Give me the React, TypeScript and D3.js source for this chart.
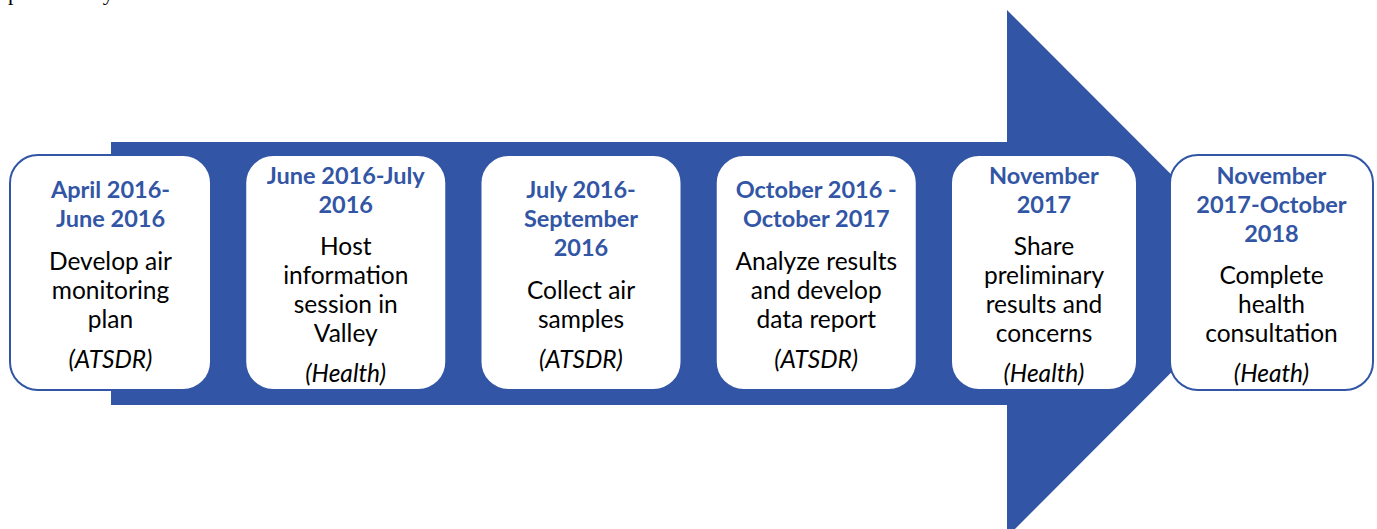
import React from "react"
import * as d3 from "d3"

// timeline content, one entry per step
const periods: string[][] = [
  ["April 2016-", "June 2016"],
  ["June 2016-July", "2016"],
  ["July 2016-", "September", "2016"],
  ["October 2016 -", "October 2017"],
  ["November", "2017"],
  ["November", "2017-October", "2018"],
]
const activities: string[][] = [
  ["Develop air", "monitoring", "plan"],
  ["Host", "information", "session in", "Valley"],
  ["Collect air", "samples"],
  ["Analyze results", "and develop", "data report"],
  ["Share", "preliminary", "results and", "concerns"],
  ["Complete", "health", "consultation"],
]
const agencies = ["(ATSDR)", "(Health)", "(ATSDR)", "(ATSDR)", "(Health)", "(Heath)"]

const W = 1377
const H = 529
const BLUE = "#3256a5"
const FONT = "Lato, 'Open Sans', sans-serif"

const App: React.FC = () => {
  const midY = 273.5
  // box placement along the arrow
  const boxX = d3.scaleLinear().domain([0, 4]).range([10, 951])
  const boxes = periods.map((_, i) => {
    const x = i < 5 ? boxX(i) : 1170
    const w = i < 4 ? 201 : i === 4 ? 186 : 203
    return { x, w }
  })

  const arrow = d3.path()
  arrow.moveTo(111, 142)
  arrow.lineTo(1007, 142)
  arrow.lineTo(1007, 10)
  arrow.lineTo(1270, midY)
  arrow.lineTo(1007, 537)
  arrow.lineTo(1007, 405)
  arrow.lineTo(111, 405)
  arrow.closePath()

  const lh = 29
  const gapTitle = 42
  const gapAgency = 40

  return (
    <svg width={W} height={H} style={{ position: "absolute", left: 0, top: 0 }}>
      <rect width={W} height={H} fill="white" />
      {/* caption of the page above, cut off at the top edge */}
      <text x={8} y={-0.5} fontFamily="'Liberation Serif', serif" fontSize={22} fill="black">
        provided by
      </text>
      <path d={arrow.toString()} fill={BLUE} />
      {boxes.map((b, i) => {
        const nt = periods[i].length
        const nb = activities[i].length
        const span = lh * (nt - 1) + gapTitle + lh * (nb - 1) + gapAgency
        const t0 = midY - span / 2
        const b0 = t0 + lh * (nt - 1) + gapTitle
        const a0 = b0 + lh * (nb - 1) + gapAgency
        const cx = b.x + b.w / 2
        return (
          <g key={i}>
            <rect x={b.x} y={155} width={b.w} height={235} rx={28} ry={28}
              fill="white" stroke={BLUE} strokeWidth={2} />
            {periods[i].map((t, j) => (
              <text key={"t" + j} x={cx} y={t0 + j * lh} textAnchor="middle" dominantBaseline="central"
                fontFamily={FONT} fontWeight="bold" fontSize={23.5} fill={BLUE}>{t}</text>
            ))}
            {activities[i].map((t, j) => (
              <text key={"b" + j} x={cx} y={b0 + j * lh} textAnchor="middle" dominantBaseline="central"
                fontFamily={FONT} fontSize={24.5} fill="black">{t}</text>
            ))}
            <text x={cx} y={a0} textAnchor="middle" dominantBaseline="central"
              fontFamily={FONT} fontStyle="italic" fontSize={24.5} fill="black">{agencies[i]}</text>
          </g>
        )
      })}
    </svg>
  )
}

export default App
